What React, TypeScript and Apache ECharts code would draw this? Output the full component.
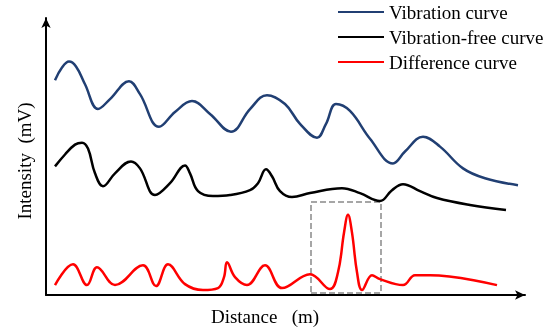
import React, { useEffect, useRef } from "react";
import * as echarts from "echarts";

const seriesNames = ["Vibration curve", "Vibration-free curve", "Difference curve"];

const vibration: [number, number][] = [
  [9, 217], [16, 230], [23, 236], [30, 231], [39, 213], [52, 188], [64, 198], [83, 216],
  [94, 203], [113, 170], [129, 185], [146, 196], [164, 183], [185, 165], [204, 188],
  [221, 202], [239, 193], [254, 173], [271, 159], [280, 173], [290, 193], [304, 186],
  [324, 158], [347, 133], [359, 145], [377, 160], [394, 150], [417, 128], [439, 118], [472, 111],
];

const vibrationFree: [number, number][] = [
  [9, 130], [19, 142], [29, 152], [36, 154], [42, 148], [49, 123], [57, 110], [69, 123],
  [85, 135], [94, 128], [109, 101], [124, 113], [139, 131], [144, 123], [152, 105],
  [167, 100], [184, 101], [204, 106], [212, 113], [220, 127], [226, 120], [234, 105],
  [246, 99], [264, 103], [296, 108], [314, 103], [334, 95], [346, 106], [357, 112],
  [374, 105], [391, 98], [424, 91], [460, 86],
];

const difference: [number, number][] = [
  [9, 10], [27, 31], [41, 10], [51, 28], [69, 10], [97, 30], [110, 9], [122, 31], [139, 11],
  [157, 5], [172, 7], [178, 18], [181, 33], [189, 18], [201, 10], [219, 30], [236, 7],
  [264, 21], [284, 6], [292, 23], [298, 63], [302, 81], [306, 63], [311, 23], [316, 5],
  [326, 20], [334, 16], [357, 10], [369, 20], [384, 20], [451, 10],
];

// dashed highlight box around the main difference peak (data coordinates)
const boxX = [265, 335];
const boxY = [2, 94];

const xName = "Distance\u00a0\u00a0\u00a0(m)";
const yName = "Intensity\u00a0\u00a0(mV)";

const colors = ["#213f73", "#000000", "#ff0000"];
const serif = "'Liberation Serif', 'Times New Roman', serif";

export default function App() {
  const ref = useRef<HTMLDivElement>(null);
  useEffect(() => {
    if (!ref.current) return;
    const chart = echarts.init(ref.current, undefined, { renderer: "svg" });
    const lineSeries = (name: string, data: [number, number][], color: string, extra: any = {}) => ({
      name,
      type: "line",
      data,
      smooth: 0.4,
      showSymbol: false,
      symbol: "none",
      lineStyle: { color, width: 2.5 },
      itemStyle: { color },
      ...extra,
    });
    chart.setOption({
      animation: false,
      grid: { left: 46, right: 28, top: 18, bottom: 33, containLabel: false },
      legend: {
        orient: "vertical",
        left: 338,
        top: 2,
        padding: 0,
        icon: "rect",
        itemWidth: 46,
        itemHeight: 2,
        itemGap: 5,
        textStyle: { fontFamily: serif, fontSize: 19, color: "#000", lineHeight: 20 },
        data: seriesNames,
      },
      xAxis: {
        type: "value",
        min: 0,
        max: 479,
        name: xName,
        nameLocation: "middle",
        nameGap: 12,
        nameTextStyle: { fontFamily: serif, fontSize: 19, color: "#000", padding: [0, 41, 0, 0] },
        axisLine: { show: true, symbol: ["none", "arrow"], symbolSize: [7, 10], lineStyle: { color: "#000", width: 2 } },
        axisTick: { show: false },
        axisLabel: { show: false },
        splitLine: { show: false },
      },
      yAxis: {
        type: "value",
        min: 0,
        max: 280,
        name: yName,
        nameLocation: "middle",
        nameGap: 12,
        nameRotate: 90,
        nameTextStyle: { fontFamily: serif, fontSize: 19, color: "#000", padding: [0, 9, 0, 0] },
        axisLine: { show: true, symbol: ["none", "arrow"], symbolSize: [7, 10], lineStyle: { color: "#000", width: 2 } },
        axisTick: { show: false },
        axisLabel: { show: false },
        splitLine: { show: false },
      },
      series: [
        lineSeries(seriesNames[0], vibration, colors[0]),
        lineSeries(seriesNames[1], vibrationFree, colors[1]),
        lineSeries(seriesNames[2], difference, colors[2], {
          markArea: {
            silent: true,
            itemStyle: { color: "rgba(0,0,0,0)", borderColor: "#a6a6a6", borderWidth: 2, borderType: [6, 3] },
            data: [[{ xAxis: boxX[0], yAxis: boxY[0] }, { xAxis: boxX[1], yAxis: boxY[1] }]],
          },
        }),
      ],
    });
    return () => chart.dispose();
  }, []);
  return <div ref={ref} style={{ position: "fixed", left: 0, top: 0, width: 553, height: 331 }} />;
}
